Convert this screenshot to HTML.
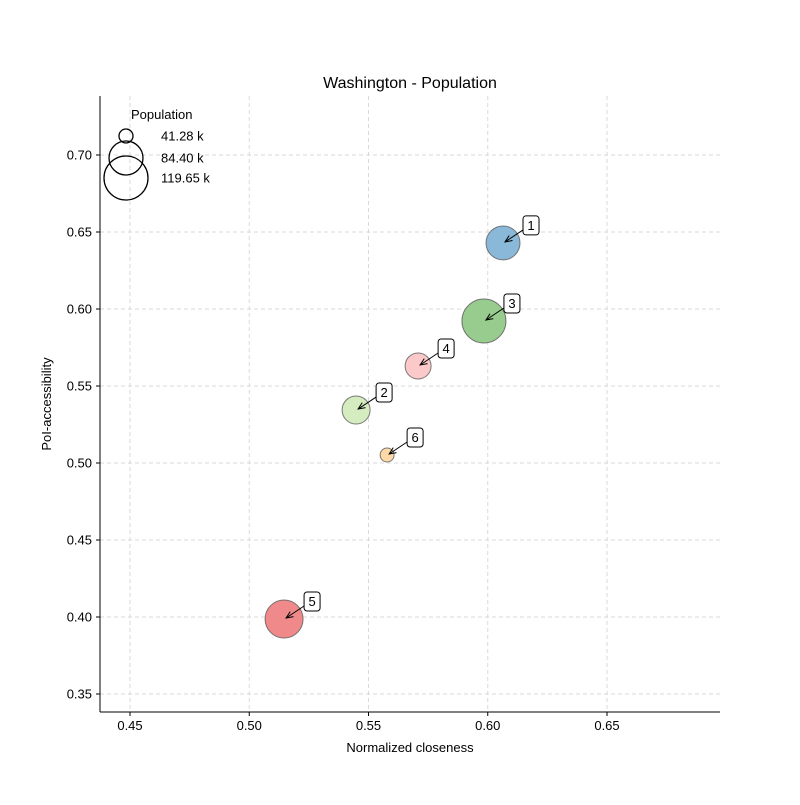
<!DOCTYPE html>
<html><head><meta charset="utf-8"><style>
body{margin:0;background:#fff}
svg text{font-family:"Liberation Sans","DejaVu Sans",sans-serif;font-size:13px;fill:#000}
svg text.title{font-size:16px}
</style></head><body>
<svg id="chart" width="800" height="800">
<defs><marker id="ah" markerWidth="8" markerHeight="8" refX="7" refY="4" orient="auto"><path d="M0,1 L7,4 L0,7" fill="none" stroke="#000" stroke-width="1"/></marker></defs>
<g id="grid"></g>
<g id="axes"></g>
<g id="marks"></g>
<g id="legend"></g>
</svg>
<script>
const labels=["1","2","3","4","5","6"];
const xs=[0.6064,0.5448,0.5984,0.5708,0.5146,0.5578];
const ys=[0.6429,0.5344,0.5922,0.5630,0.3987,0.5052];
const pops=[84.4,67.8,119.65,62.9,97.5,41.28];
const colors=["#8ab8d8","#d4ecc0","#98cc8f","#fbc9c9","#f08a8a","#fdd9a8"];
const xTicks=[0.45,0.50,0.55,0.60,0.65];
const yTicks=[0.35,0.40,0.45,0.50,0.55,0.60,0.65,0.70];
const legendPops=[41.28,84.40,119.65];
const L=100,R=720,T=96,B=712;
const X=v=>130+(v-0.45)*2385;
const Y=v=>155-(v-0.70)*1540;
const rad=p=>Math.sqrt(Math.max(49+5.55*(p-41.28),4));
const NS="http://www.w3.org/2000/svg";
function mk(tag,attrs,parent,txt){const e=document.createElementNS(NS,tag);for(const k in attrs)e.setAttribute(k,attrs[k]);if(txt!==undefined)e.textContent=txt;parent.appendChild(e);return e;}
const grid=document.getElementById('grid'),axes=document.getElementById('axes'),marks=document.getElementById('marks'),leg=document.getElementById('legend');
xTicks.forEach(t=>{const x=X(t);
 let g=mk('line',{x1:x,x2:x,y1:T,y2:B,stroke:'#dadada','stroke-dasharray':'4,3'},grid);
 
 mk('line',{x1:x,x2:x,y1:B,y2:B+4,stroke:'#000'},axes);
 let tx=mk('text',{x:x,y:B+18,'text-anchor':'middle'},axes,t.toFixed(2));
 });
yTicks.forEach(t=>{const y=Y(t);
 let g=mk('line',{x1:L,x2:R,y1:y,y2:y,stroke:'#dadada','stroke-dasharray':'4,3'},grid);
 
 mk('line',{x1:L-4,x2:L,y1:y,y2:y,stroke:'#000'},axes);
 let tx=mk('text',{x:L-8,y:y+4.5,'text-anchor':'end'},axes,t.toFixed(2));
 });
mk('line',{x1:L,x2:L,y1:T,y2:B,stroke:'#000'},axes);
mk('line',{x1:L,x2:R,y1:B,y2:B,stroke:'#000'},axes);
let t1=mk('text',{x:410,y:88,'text-anchor':'middle','class':'title'},axes,'Washington - Population');

let t2=mk('text',{x:410,y:752,'text-anchor':'middle'},axes,'Normalized closeness');

let t3=mk('text',{x:51,y:404,'text-anchor':'middle',transform:'rotate(-90 51 404)'},axes,'PoI-accessibility');

labels.forEach((lb,i)=>{const cx=X(xs[i]),cy=Y(ys[i]);
 let c=mk('circle',{cx:cx,cy:cy,r:rad(pops[i]),fill:colors[i],stroke:'#5a5a5a','stroke-opacity':0.8},marks);
 
 const bx=cx+20,by=cy-27;
 mk('line',{x1:bx,y1:by+14,x2:cx+2,y2:cy-1,stroke:'#000','stroke-width':1,'marker-end':'url(#ah)'},marks);
 let b=mk('rect',{x:bx,y:by,width:16,height:19,rx:3,fill:'#fff',stroke:'#000'},marks);
 
 let t=mk('text',{x:bx+8,y:by+14,'text-anchor':'middle'},marks,lb);
 });
let lt=mk('text',{x:131,y:119},leg,'Population');

const ly=[136,158,178];
legendPops.forEach((p,i)=>{
 let c=mk('circle',{cx:126,cy:ly[i],r:rad(p),fill:'none',stroke:'#000','stroke-width':1.3},leg);
 
 let t=mk('text',{x:161,y:ly[i]+4.5},leg,p.toFixed(2)+' k');
 });
</script>
</body></html>
